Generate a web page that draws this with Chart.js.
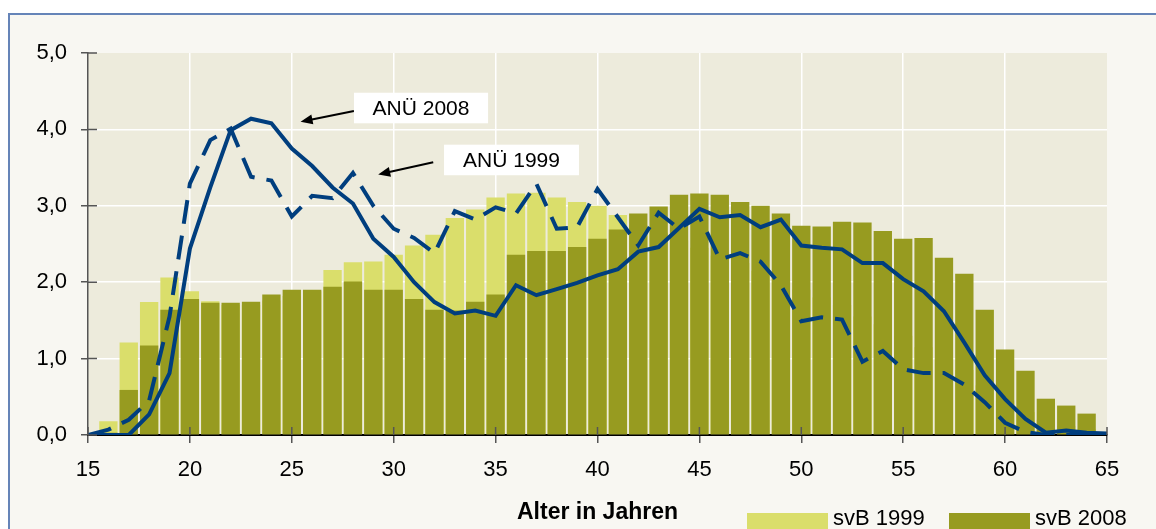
<!DOCTYPE html>
<html>
<head>
<meta charset="utf-8">
<script src="https://cdn.jsdelivr.net/npm/chart.js@4.4.1/dist/chart.umd.min.js"></script>
<style>
  html, body { margin: 0; padding: 0; background: #fff; overflow: hidden; }
  #frame { position: absolute; left: 8px; top: 13px; width: 1200px; height: 560px;
           background: #f8f7f2; border-left: 2px solid #6584b8; border-top: 2px solid #6584b8; }
  #wrap { position: absolute; left: 0; top: 0; width: 1156px; height: 529px; }
</style>
</head>
<body>
<div id="frame"></div>
<div id="wrap"><canvas id="chart"></canvas></div>
<script>
// Alter (Jahre)
const ages = [15, 16, 17, 18, 19, 20, 21, 22, 23, 24, 25, 26, 27, 28, 29, 30, 31, 32, 33, 34,
              35, 36, 37, 38, 39, 40, 41, 42, 43, 44, 45, 46, 47, 48, 49, 50, 51, 52, 53, 54,
              55, 56, 57, 58, 59, 60, 61, 62, 63, 64, 65];

// sozialversicherungspflichtig Beschaeftigte (Anteil in %)
const svb1999 = [null, 0.18, 1.21, 1.74, 2.06, 1.88, 1.75, 1.70, 1.70, 1.76, 1.82, 1.88, 2.16, 2.26, 2.27, 2.36, 2.48, 2.62, 2.84, 2.95,
                 3.11, 3.16, 3.17, 3.11, 3.05, 3.00, 2.88, 2.75, 2.65, 2.55, 2.45, 2.35, 2.25, 2.15, 2.05, 1.90, 1.80, 1.70, 1.55, 1.45,
                 1.30, 1.15, 1.00, 0.85, 0.65, 0.45, 0.30, 0.20, 0.12, 0.08, null];
const svb2008 = [null, 0.03, 0.59, 1.17, 1.64, 1.78, 1.73, 1.73, 1.745, 1.84, 1.90, 1.90, 1.94, 2.01, 1.90, 1.90, 1.78, 1.64, 1.63, 1.745,
                 1.84, 2.36, 2.41, 2.41, 2.46, 2.57, 2.69, 2.90, 2.99, 3.145, 3.16, 3.145, 3.05, 3.00, 2.90, 2.74, 2.73, 2.79, 2.78, 2.67,
                 2.57, 2.58, 2.32, 2.11, 1.64, 1.12, 0.84, 0.475, 0.385, 0.28, null];

// Arbeitnehmerueberlassung
const anue2008 = [0, 0, 0, 0.27, 0.81, 2.44, 3.24, 3.99, 4.14, 4.08, 3.75, 3.52, 3.24, 3.03, 2.57, 2.33, 2.00, 1.74, 1.59, 1.63,
                  1.56, 1.96, 1.83, 1.91, 1.99, 2.09, 2.17, 2.40, 2.46, 2.71, 2.96, 2.85, 2.88, 2.72, 2.82, 2.48, 2.45, 2.43, 2.25, 2.25,
                  2.04, 1.88, 1.62, 1.21, 0.78, 0.47, 0.21, 0.03, 0.06, 0.03, 0.02];
const anue1999 = [0, 0.07, 0.20, 0.45, 1.55, 3.29, 3.86, 4.01, 3.38, 3.33, 2.86, 3.13, 3.10, 3.43, 3.00, 2.70, 2.58, 2.38, 2.93, 2.82,
                  2.98, 2.90, 3.29, 2.70, 2.72, 3.22, 2.85, 2.48, 2.91, 2.70, 2.86, 2.30, 2.38, 2.27, 1.96, 1.49, 1.54, 1.51, 0.96, 1.10,
                  0.86, 0.81, 0.81, 0.66, 0.43, 0.16, 0.04, 0, 0, 0, 0];

const yTickLabels = ['0,0', '1,0', '2,0', '3,0', '4,0', '5,0'];

// Beschriftungen mit Pfeil (Datenkoordinaten)
const callouts = [
  { text: 'ANÜ 2008', box: [28.05, 4.48, 34.63, 4.08], from: [28.05, 4.24], to: [25.43, 4.10] },
  { text: 'ANÜ 1999', box: [32.47, 3.80, 39.09, 3.40], from: [31.94, 3.57], to: [29.24, 3.41] }
];

const FONT = "'Liberation Sans', Arial, sans-serif";
const BLUE = 'rgb(0, 62, 126)';
const LIGHT = 'rgb(218, 222, 107)';
const DARK = 'rgb(151, 155, 32)';

const pts = (vals) => ages.map((a, i) => ({ x: a, y: vals[i] }));

const plotBg = {
  id: 'plotBg',
  beforeDraw(chart) {
    const { ctx, chartArea: a } = chart;
    ctx.save();
    ctx.fillStyle = '#edebdc';
    ctx.fillRect(a.left, a.top, a.right - a.left, a.bottom - a.top);
    ctx.restore();
  }
};

// tick marks crossing into the plot
const innerTicks = {
  id: 'innerTicks',
  afterDatasetsDraw(chart) {
    const { ctx, scales: { x, y } } = chart;
    ctx.save();
    ctx.strokeStyle = '#555';
    ctx.lineWidth = 1.5;
    ctx.beginPath();
    y.ticks.forEach(t => {
      const py = y.getPixelForValue(t.value);
      ctx.moveTo(x.left, py); ctx.lineTo(x.left + 9, py);
    });
    x.ticks.forEach(t => {
      const px = x.getPixelForValue(t.value);
      ctx.moveTo(px, y.bottom); ctx.lineTo(px, y.bottom - 8);
    });
    ctx.stroke();
    ctx.restore();
  }
};

const calloutPlugin = {
  id: 'callouts',
  afterDatasetsDraw(chart) {
    const { ctx, scales: { x, y } } = chart;
    ctx.save();
    callouts.forEach(c => {
      const x1 = x.getPixelForValue(c.box[0]), y1 = y.getPixelForValue(c.box[1]);
      const x2 = x.getPixelForValue(c.box[2]), y2 = y.getPixelForValue(c.box[3]);
      const fx = x.getPixelForValue(c.from[0]), fy = y.getPixelForValue(c.from[1]);
      const tx = x.getPixelForValue(c.to[0]), ty = y.getPixelForValue(c.to[1]);
      // arrow
      const ang = Math.atan2(ty - fy, tx - fx);
      ctx.strokeStyle = '#000';
      ctx.fillStyle = '#000';
      ctx.lineWidth = 2;
      ctx.beginPath();
      ctx.moveTo(fx, fy);
      ctx.lineTo(tx - 9 * Math.cos(ang), ty - 9 * Math.sin(ang));
      ctx.stroke();
      ctx.beginPath();
      ctx.moveTo(tx, ty);
      ctx.lineTo(tx - 12 * Math.cos(ang) + 5 * Math.sin(ang), ty - 12 * Math.sin(ang) - 5 * Math.cos(ang));
      ctx.lineTo(tx - 12 * Math.cos(ang) - 5 * Math.sin(ang), ty - 12 * Math.sin(ang) + 5 * Math.cos(ang));
      ctx.closePath();
      ctx.fill();
      // box
      ctx.fillStyle = '#fff';
      ctx.fillRect(x1, y1, x2 - x1, y2 - y1);
      ctx.fillStyle = '#000';
      ctx.font = '21px ' + FONT;
      ctx.textAlign = 'center';
      ctx.textBaseline = 'middle';
      ctx.fillText(c.text, (x1 + x2) / 2, (y1 + y2) / 2 + 1);
    });
    ctx.restore();
  }
};

const legendPlugin = {
  id: 'sideLegend',
  afterDraw(chart) {
    const { ctx } = chart;
    const items = [chart.data.datasets[3], chart.data.datasets[2]];
    const starts = [747, 949];
    ctx.save();
    ctx.font = '22px ' + FONT;
    ctx.textAlign = 'left';
    ctx.textBaseline = 'alphabetic';
    items.forEach((ds, i) => {
      ctx.fillStyle = ds.backgroundColor;
      ctx.fillRect(starts[i], 513, 81, 16);
      ctx.fillStyle = '#000';
      ctx.fillText(ds.label, starts[i] + 86, 525);
    });
    ctx.restore();
  }
};

new Chart(document.getElementById('chart'), {
  type: 'bar',
  data: {
    datasets: [
      { type: 'line', label: 'ANÜ 2008', data: pts(anue2008), borderColor: BLUE, borderWidth: 4,
        pointRadius: 0, tension: 0, fill: false },
      { type: 'line', label: 'ANÜ 1999', data: pts(anue1999), borderColor: BLUE, borderWidth: 4,
        borderDash: [24, 12], pointRadius: 0, tension: 0, fill: false },
      { label: 'svB 2008', data: pts(svb2008), backgroundColor: DARK, grouped: false,
        barPercentage: 0.9, categoryPercentage: 1 },
      { label: 'svB 1999', data: pts(svb1999), backgroundColor: LIGHT, grouped: false,
        barPercentage: 0.9, categoryPercentage: 1 }
    ]
  },
  options: {
    responsive: true,
    maintainAspectRatio: false,
    animation: false,
    layout: { padding: { top: 53, right: 49, left: 0, bottom: 0 } },
    scales: {
      x: {
        type: 'linear',
        min: 15,
        max: 65,
        offset: false,
        afterFit: (s) => { s.height = 94; },
        ticks: { stepSize: 5, color: '#000', font: { family: FONT, size: 22 }, padding: 14, maxRotation: 0 },
        grid: {
          offset: false,
          color: (c) => (c.tick && c.tick.value > 15 && c.tick.value < 65) ? '#fff' : 'rgba(0,0,0,0)',
          lineWidth: 1.5,
          tickColor: '#555',
          tickWidth: 1.5,
          tickLength: 8
        },
        border: { color: '#000', width: 2 },
        title: { display: true, text: 'Alter in Jahren', color: '#000',
                 font: { family: FONT, size: 23, weight: 'bold' }, padding: { top: 0, bottom: 3 } }
      },
      y: {
        min: 0,
        max: 5,
        afterFit: (s) => { s.width = 88; },
        ticks: { stepSize: 1, color: '#000', font: { family: FONT, size: 22 }, padding: 14,
                 callback: (v) => yTickLabels[v] },
        grid: {
          color: (c) => (c.tick && c.tick.value > 0 && c.tick.value < 5) ? '#fff' : 'rgba(0,0,0,0)',
          lineWidth: 1.5,
          tickColor: '#555',
          tickWidth: 1.5,
          tickLength: 7
        },
        border: { color: '#555', width: 1.5 }
      }
    },
    plugins: {
      legend: { display: false },
      tooltip: { enabled: false }
    }
  },
  plugins: [plotBg, innerTicks, calloutPlugin, legendPlugin]
});
</script>
</body>
</html>
